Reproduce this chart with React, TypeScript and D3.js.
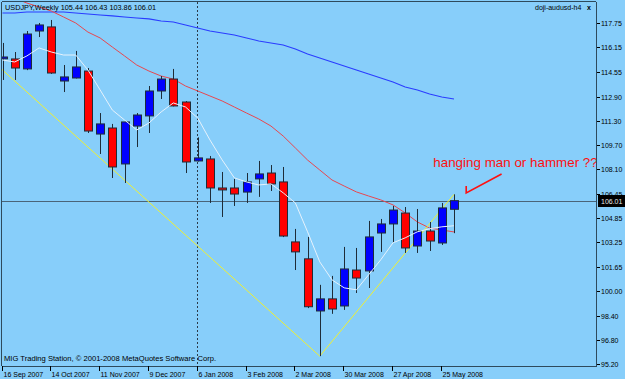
import React from "react";
import * as d3 from "d3";

const W = 625;
const H = 379;

// Weekly USDJPY candles, 16 Sep 2007 .. 25 May 2008 (+1 week)
const opens = [115.40,115.39,114.73,117.24,117.51,113.93,114.13,114.59,110.42,110.82,108.44,110.95,111.62,113.27,114.06,112.54,108.64,108.77,106.85,106.85,106.58,107.45,107.84,107.25,103.28,102.16,98.71,99.51,99.04,101.42,101.36,103.87,104.47,105.19,103.01,104.00,103.21,105.44];
const highs = [116.45,115.85,117.24,117.77,117.97,114.99,115.92,114.79,111.81,111.09,111.25,111.81,113.60,114.26,114.73,112.60,110.20,108.97,107.91,107.45,107.84,108.64,108.37,108.24,104.14,103.61,100.44,101.03,102.95,102.88,104.67,104.80,105.66,105.59,105.46,104.60,105.86,106.43];
const lows = [114.00,114.00,114.65,116.84,114.40,113.20,114.10,110.49,109.10,107.51,107.18,109.56,110.49,112.74,112.25,107.84,108.60,105.86,104.93,105.66,105.86,106.26,106.65,103.60,101.42,98.90,95.72,98.52,98.78,99.90,100.23,102.62,103.21,102.55,102.55,102.68,103.08,103.86];
const closes = [115.52,114.79,117.04,117.64,114.46,114.20,114.86,110.62,111.09,108.24,111.22,111.68,113.27,114.06,112.28,108.57,108.84,106.85,106.72,106.45,107.25,107.78,107.12,103.67,102.62,98.99,99.51,98.84,101.49,100.89,103.61,104.47,105.39,102.88,104.00,103.34,105.53,106.01];

// Moving averages
const maFast = [115.32,115.19,115.59,116.12,115.85,115.65,115.65,114.66,113.34,112.01,111.35,110.69,111.15,111.88,112.48,112.21,111.48,110.03,108.71,107.52,107.25,107.05,107.12,106.53,105.86,103.95,101.96,100.77,100.24,100.11,101.10,102.10,103.22,103.55,103.95,104.15,104.28,104.35];
const maMid = [119.69,119.42,119.09,118.83,118.56,118.17,117.77,117.17,116.78,116.18,115.59,114.99,114.59,114.26,114.06,113.60,113.27,112.94,112.61,112.21,111.81,111.42,110.95,110.29,109.50,108.70,108.04,107.38,106.98,106.59,106.32,106.06,105.73,105.20,104.60,104.20,104.07,103.94];
const maSlow = [118.43,118.43,118.50,118.50,118.50,118.50,118.43,118.37,118.30,118.24,118.17,118.10,118.04,117.90,117.84,117.64,117.44,117.24,117.11,116.98,116.78,116.58,116.45,116.31,116.05,115.72,115.45,115.19,114.92,114.66,114.39,114.13,113.86,113.53,113.33,113.07,112.87,112.74];

// ZigZag pivots (bar index, price)
const zigIdx = [-13, 26, 37];
const zigPrice = [124.13, 95.72, 106.43];

const priceTicks = [117.75,116.15,114.55,112.90,111.30,109.70,108.10,106.45,104.85,103.25,101.65,100.00,98.40,96.80,95.20];
const dateLabels = ["16 Sep 2007","14 Oct 2007","11 Nov 2007","9 Dec 2007","6 Jan 2008","3 Feb 2008","2 Mar 2008","30 Mar 2008","27 Apr 2008","25 May 2008"];
const dateLabelIdx = [0,4,8,12,16,20,24,28,32,36];

const headerText = "USDJPY,Weekly  105.44 106.43 103.86 106.01";
const lastPrice = 106.01;
const separatorIdx = 16;

// annotation (bar index, price)
const noteText = "hanging man or hammer ??";
const noteIdx = 35.3;
const notePrice = 108.24;
const arrowIdx = [38.0, 38.0, 40.9];
const arrowPrice = [106.98, 106.52, 107.78];

const PL = 2, PR = 596, PT = 2, PB = 366;

export default function App() {
  const x = d3.scaleLinear().domain([0, 37]).range([2.5, 454]);
  const y = d3.scaleLinear().domain([95.2, 117.75]).range([364, 23.3]);
  const idx = d3.range(closes.length);

  const line = (vals: number[]) =>
    d3.line<number>().x((_, i) => x(i)).y((v) => y(v))(vals) || "";

  const zig = d3.line<number>().x((v) => x(v)).y((_, i) => y(zigPrice[i]))(zigIdx) || "";
  const arrow = d3.line<number>().x((v) => x(v)).y((_, i) => y(arrowPrice[i]))(arrowIdx) || "";

  const frame = "#2e4a5c";
  const bw = 8;

  return (
    <svg width={W} height={H} style={{ position: "absolute", left: 0, top: 0 }} fontFamily="'Liberation Sans', Arial, sans-serif">
      <defs>
        <clipPath id="plot">
          <rect x={PL} y={PT} width={PR - PL} height={PB - PT} />
        </clipPath>
      </defs>
      <rect x={0} y={0} width={W} height={H} fill="#87cefa" />

      <g clipPath="url(#plot)">
        {/* price line */}
        <line x1={PL} x2={PR} y1={Math.round(y(lastPrice)) + 0.5} y2={Math.round(y(lastPrice)) + 0.5} stroke="#4a6478" strokeWidth={1} />
        {/* period separator */}
        <line x1={Math.round(x(separatorIdx)) - 0.5} x2={Math.round(x(separatorIdx)) - 0.5} y1={PT} y2={PB} stroke="#2a3a48" strokeDasharray="2,2" strokeWidth={1} />

        <path d={line(maSlow)} fill="none" stroke="#2a3cff" strokeWidth={1.1} />
        <path d={line(maMid)} fill="none" stroke="#e8474f" strokeWidth={1} />
        <path d={zig} fill="none" stroke="#f0f030" strokeWidth={1} />

        {idx.map((i) => {
          const cx = Math.round(x(i)) + 0.5;
          const up = closes[i] >= opens[i];
          const top = y(Math.max(opens[i], closes[i]));
          const bot = y(Math.min(opens[i], closes[i]));
          return (
            <g key={i}>
              <line x1={cx} x2={cx} y1={y(highs[i])} y2={y(lows[i])} stroke="#1e2c38" strokeWidth={1} />
              <rect x={cx - bw / 2} y={top} width={bw} height={Math.max(1, bot - top)} fill={up ? "#0000ff" : "#ff0000"} stroke="#1e2c38" strokeWidth={1} />
            </g>
          );
        })}

        <path d={line(maFast)} fill="none" stroke="#e6f2fc" strokeWidth={1} />

        <text x={x(noteIdx)} y={y(notePrice)} fontSize={13.4} fill="#ff1010" fontFamily="'Liberation Sans', Arial, sans-serif">{noteText}</text>
        <path d={arrow} fill="none" stroke="#ff1010" strokeWidth={1.6} />
      </g>

      {/* frame */}
      <line x1={PL - 0.5} x2={PL - 0.5} y1={PT} y2={PB} stroke={frame} />
      <line x1={PL} x2={PR} y1={PT - 0.5} y2={PT - 0.5} stroke={frame} />
      <line x1={PR + 0.5} x2={PR + 0.5} y1={PT} y2={PB} stroke={frame} />
      <line x1={PL} x2={PR + 1} y1={PB + 0.5} y2={PB + 0.5} stroke={frame} />

      {/* price axis */}
      {priceTicks.map((p) => {
        const ty = Math.round(y(p)) + 0.5;
        return (
          <g key={p}>
            <line x1={PR + 1} x2={PR + 4} y1={ty} y2={ty} stroke="#000" />
            <text x={601} y={ty + 2.5} fontSize={7} fill="#000">{p.toFixed(2)}</text>
          </g>
        );
      })}
      <rect x={598} y={Math.round(y(lastPrice)) - 6} width={27} height={12} fill="#000" />
      <text x={601} y={Math.round(y(lastPrice)) + 3} fontSize={7} fill="#e8e8e8">{lastPrice.toFixed(2)}</text>

      {/* time axis */}
      {dateLabels.map((lab, k) => {
        const tx = Math.round(x(dateLabelIdx[k])) - 0.5;
        return (
          <g key={lab}>
            <line x1={tx} x2={tx} y1={PB} y2={PB + 5} stroke="#000" />
            <text x={tx + 1} y={376.5} fontSize={7} fill="#000">{lab}</text>
          </g>
        );
      })}

      <text x={5} y={10} fontSize={7.3} fill="#000">{headerText}</text>
      <text x={535} y={10} fontSize={7} fill="#000">doji-audusd-h4</text>
      <text x={587} y={10} fontSize={7} fontWeight="bold" fill="#000">x</text>
      <text x={4} y={361} fontSize={7.6} fill="#000">MIG Trading Station, © 2001-2008 MetaQuotes Software Corp.</text>
    </svg>
  );
}
